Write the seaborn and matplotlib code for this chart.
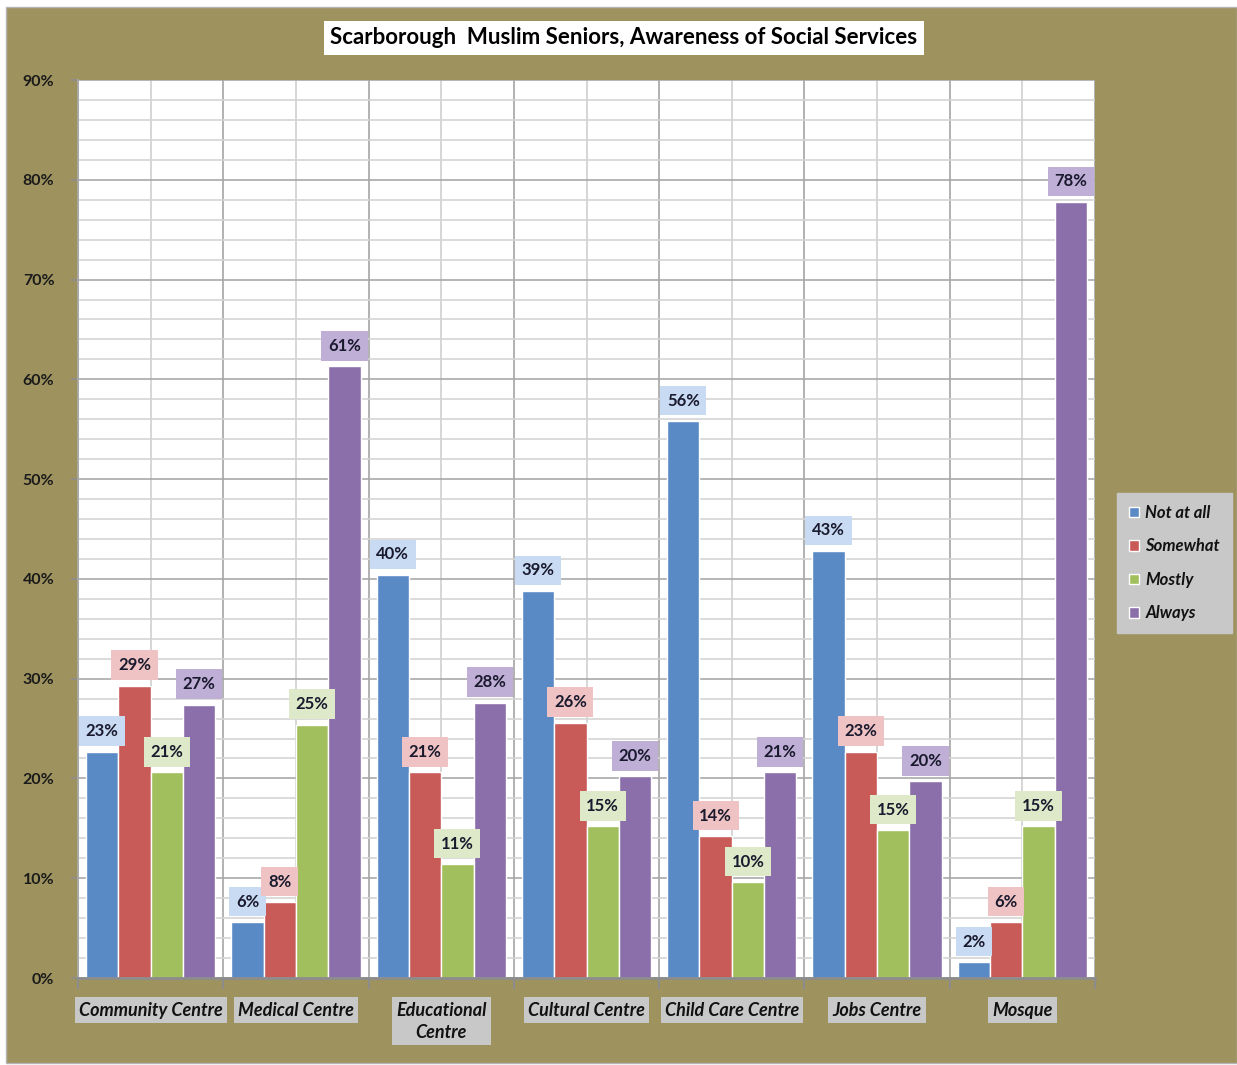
import numpy as np
import pandas as pd
import matplotlib
matplotlib.use("Agg")
import matplotlib.pyplot as plt
from matplotlib.patches import Rectangle
import seaborn as sns

# data
categories = ["Community Centre", "Medical Centre", "Educational\nCentre", "Cultural Centre",
              "Child Care Centre", "Jobs Centre", "Mosque"]
levels = ["Not at all", "Somewhat", "Mostly", "Always"]
not_at_all = [22.7, 5.6, 40.4, 38.8, 55.8, 42.8, 1.6]
somewhat = [29.3, 7.6, 20.6, 25.6, 14.2, 22.7, 5.6]
mostly = [20.6, 25.4, 11.4, 15.2, 9.6, 14.8, 15.2]
always = [27.4, 61.3, 27.6, 20.2, 20.6, 19.7, 77.8]

df = pd.DataFrame({"Service": categories, "Not at all": not_at_all, "Somewhat": somewhat,
                   "Mostly": mostly, "Always": always})
df = df.melt(id_vars="Service", var_name="Response", value_name="Percent")

bar_colors = ["#5a8ac6", "#c85b58", "#a2bf5e", "#8a6fab"]
box_colors = ["#c9dbf2", "#efc3c3", "#dde9c8", "#bfaed6"]
olive = "#9e935f"

sns.set_theme(style="white")
plt.rcParams["font.family"] = ["Lato", "DejaVu Sans"]

W, H = 1237, 1065
fig = plt.figure(figsize=(W / 100, H / 100), dpi=100, facecolor="white")
fig.patches.append(Rectangle((6 / W, 2 / H), 1 - 6 / W, (1063 - 7) / H, transform=fig.transFigure,
                             facecolor=olive, edgecolor="#b4b4b4", lw=1, zorder=-10))

ax = fig.add_axes([78 / W, (H - 978) / H, (1095 - 78) / W, (978 - 80) / H])
ax.set_facecolor("white")

sns.barplot(data=df, x="Service", y="Percent", hue="Response", hue_order=levels,
            palette=bar_colors, saturation=1, width=0.89, errorbar=None, ax=ax, zorder=2)

ax.set_xlim(-0.5, 6.5)
ax.set_ylim(0, 90)
ax.set_xlabel("")
ax.set_ylabel("")

# grid lines
ax.set_yticks(range(0, 91, 10))
ax.set_yticks(range(0, 91, 2), minor=True)
ax.grid(which="minor", axis="y", color="#d4d4d4", lw=1.2)
ax.grid(which="major", axis="y", color="#a9a9a9", lw=1.2)
ax.set_axisbelow(True)
for xb in np.arange(-0.5, 7, 1):
    ax.axvline(xb, color="#ababab", lw=1.3, zorder=0.5)
for xc in range(len(categories)):
    ax.axvline(xc, color="#d0d0d0", lw=1.2, zorder=0.5)

ax.set_yticklabels([f"{v}%" for v in range(0, 91, 10)], fontsize=11.5, fontweight="bold", color="#1a1a1a")
ax.tick_params(axis="y", which="major", length=5, width=1.2, color="#8c8c8c", pad=12, left=True)
ax.tick_params(axis="y", which="minor", length=0)

ax.set_xticks(np.arange(-0.5, 7, 1), minor=True)
ax.tick_params(axis="x", which="minor", length=8, width=1.5, color="#8c8c8c", bottom=True)
ax.tick_params(axis="x", which="major", length=0, pad=17)
for lbl in ax.get_xticklabels():
    lbl.set_fontsize(13)
    lbl.set_fontweight("bold")
    lbl.set_fontstyle("italic")
    lbl.set_color("#111111")
    lbl.set_linespacing(1.35)
    lbl.set_bbox(dict(facecolor="#c8c8c8", edgecolor="none", pad=3))

for side in ["top", "right"]:
    ax.spines[side].set_visible(False)
ax.spines["left"].set_color("#a9a9a9")
ax.spines["bottom"].set_color("#8c8c8c")
ax.spines["bottom"].set_linewidth(2)

# value labels in coloured boxes
for container, bc in zip(ax.containers, box_colors):
    ax.bar_label(container, fmt="{:.0f}%", padding=9, fontsize=12, fontweight="bold",
                 color="#1a1a2e",
                 bbox=dict(boxstyle="square,pad=0.4", facecolor=bc, edgecolor="none"))

handles, labels = ax.get_legend_handles_labels()
leg = ax.legend(handles, labels, loc="center left", bbox_to_anchor=(1117 / W, 1 - 563 / H),
                bbox_transform=fig.transFigure, frameon=True, facecolor="#c8c8c8",
                edgecolor="#c8c8c8", framealpha=1, fancybox=False,
                prop=dict(style="italic", weight="bold", size=12),
                handlelength=0.6, handleheight=0.6, handletextpad=0.4,
                labelspacing=1.05, borderpad=0.7, borderaxespad=0)
for t in leg.get_texts():
    t.set_color("#111111")

fig.text(624 / W, 1 - 38 / H, "Scarborough  Muslim Seniors, Awareness of Social Services",
         ha="center", va="center", fontsize=16, fontweight="bold", color="black",
         bbox=dict(facecolor="white", edgecolor="none", boxstyle="square,pad=0.3"))

fig.savefig("out.png", dpi=100, facecolor=fig.get_facecolor())
